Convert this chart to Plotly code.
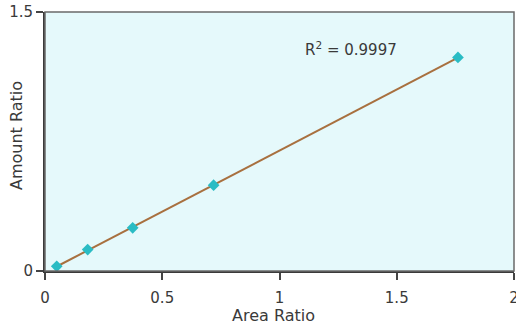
import numpy as np
import plotly.graph_objects as go

area_ratio = [0.05, 0.182, 0.374, 0.719, 1.761]
amount_ratio = [0.027, 0.124, 0.25, 0.497, 1.237]
x_ticks = [0, 0.5, 1, 1.5, 2]
x_tick_labels = ["0", "0.5", "1", "1.5", "2"]
y_ticks = [0, 1.5]
y_tick_labels = ["0", "1.5"]
r2_label = "R<sup>2</sup> = 0.9997"
x_title = "Area Ratio"
y_title = "Amount Ratio"

FONT = "DejaVu Sans, Liberation Sans, Arial"
TXT = "#3a3a3a"

slope, intercept = np.polyfit(area_ratio, amount_ratio, 1)
fit_x = [min(area_ratio), max(area_ratio)]
fit_y = [slope * v + intercept for v in fit_x]

fig = go.Figure()
fig.add_trace(go.Scatter(x=fit_x, y=fit_y, mode="lines",
                         line=dict(color="#a8703f", width=2), showlegend=False))
fig.add_trace(go.Scatter(x=area_ratio, y=amount_ratio, mode="markers",
                         marker=dict(symbol="diamond", size=9, color="#2abcc4",
                                     line=dict(width=0)), showlegend=False))

PW, PH = 469, 259
fig.add_annotation(x=1.305, y=1.285, xref="x", yref="y", text=r2_label, showarrow=False,
                   font=dict(family=FONT, size=15, color=TXT))
fig.add_annotation(x=(273 - 45) / PW, y=(271 - 315) / PH, xref="paper", yref="paper",
                   text=x_title, showarrow=False, xanchor="center", yanchor="middle",
                   font=dict(family=FONT, size=16, color=TXT))
fig.add_annotation(x=(16 - 45) / PW, y=(271 - 136) / PH, xref="paper", yref="paper",
                   text=y_title, showarrow=False, textangle=-90, xanchor="center", yanchor="middle",
                   font=dict(family=FONT, size=16, color=TXT))

axis_common = dict(showgrid=False, zeroline=False, ticks="outside", ticklen=7, tickwidth=1.5,
                   tickcolor="#444444", linecolor="#3a3a3a", linewidth=2,
                   mirror=False, automargin=False, ticklabeloverflow="allow",
                   tickfont=dict(family=FONT, size=15, color=TXT))

fig.update_xaxes(range=[0, 2], tickvals=x_ticks, ticktext=x_tick_labels,
                 ticklabelstandoff=5, **axis_common)
fig.update_yaxes(range=[0, 1.5], tickvals=y_ticks, ticktext=y_tick_labels, **axis_common)

fig.add_shape(type="rect", xref="paper", yref="paper", x0=0, y0=0, x1=1, y1=1,
              line=dict(color="#6a6a6a", width=1.5))

fig.update_layout(width=516, height=324, margin=dict(l=45, r=2, t=12, b=53),
                  plot_bgcolor="#e5f9fb", paper_bgcolor="white")

fig.write_html("out.html", config={"displayModeBar": False},
               post_script="document.body.style.margin='0';document.body.style.overflow='hidden';")
